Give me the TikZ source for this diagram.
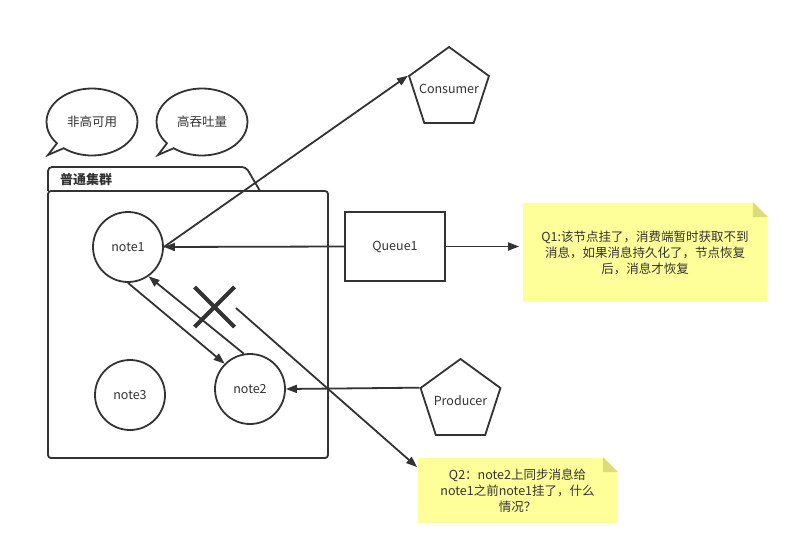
\documentclass[tikz,border=0pt]{standalone}
\usepackage{fontspec}
\setmainfont{Noto Sans CJK SC}
\usetikzlibrary{arrows.meta,positioning,shapes.geometric,shapes.callouts}

\definecolor{ink}{HTML}{333333}
\definecolor{stickyfill}{HTML}{FFFF99}
\definecolor{stickyfold}{HTML}{DCDC78}

\tikzset{
	every node/.style={font=\fontsize{12.5}{16}\selectfont},
	nodering/.style={circle, draw, minimum size=70pt, inner sep=0pt},
	penta/.style={regular polygon, regular polygon sides=5, draw, minimum size=84pt, inner sep=0pt},
	bubble/.style={ellipse callout, draw, minimum width=91pt, minimum height=67pt, inner sep=0pt, callout pointer arc=12},
	sticky/.style={fill=stickyfill, align=center, inner sep=0pt},
	flow/.style={-{Triangle[length=11pt,width=8pt]}},
}

\begin{document}
\begin{tikzpicture}[x=1pt, y=-1pt, color=ink, line width=1.8pt]
	\useasboundingbox (0,0) rectangle (800,556);
	% bubbles
	\node[bubble, callout absolute pointer={(48,155)}] (nothigh) at (92,122) {非高可用};
	\node[bubble, callout absolute pointer={(158,155)}] (highput) at (202,122) {高吞吐量};
	% cluster folder
	\draw[rounded corners=4pt] (48,191) -- (48,167) -- (246,167) -- (260,191);
	\node[draw, rounded corners=3pt, minimum width=280pt, minimum height=267pt] (cluster) at (188,324.5) {};
	\node[anchor=west, font=\fontsize{13}{16}\selectfont\bfseries] (clustername) at (56,180) {普通集群};
	\node[nodering] (note1) at (128,247) {note1};
	\node[nodering] (note2) at (250,389) {note2};
	\node[nodering] (note3) at (130,395) {note3};
	% queue, consumer, producer
	\node[draw, minimum width=100pt, minimum height=69pt] (queue1) at (395,246.5) {Queue1};
	\node[penta] (consumer) at (449,89) {\makebox[0pt]{Consumer}};
	\node[penta] (producer) at (460.5,401) {\makebox[0pt]{Producer}};
	% sticky notes
	\node[sticky, minimum width=244pt, minimum height=99pt] (q1) at (645,252.5)
		{Q1:该节点挂了，消费端暂时获取不到\\消息，如果消息持久化了，节点恢复\\后，消息才恢复};
	\node[sticky, minimum width=199pt, minimum height=65pt] (q2) at (517.5,490.5)
		{Q2：note2上同步消息给\\note1之前note1挂了，什么\\情况？};
	\fill[white] ([xshift=-15pt]q1.north east) -- (q1.north east) -- ([yshift=-15pt]q1.north east) -- cycle;
	\fill[stickyfold] ([xshift=-15pt]q1.north east) -- ([xshift=-15pt,yshift=-15pt]q1.north east) -- ([yshift=-15pt]q1.north east) -- cycle;
	\fill[white] ([xshift=-15pt]q2.north east) -- (q2.north east) -- ([yshift=-15pt]q2.north east) -- cycle;
	\fill[stickyfold] ([xshift=-15pt]q2.north east) -- ([xshift=-15pt,yshift=-15pt]q2.north east) -- ([yshift=-15pt]q2.north east) -- cycle;
	% arrows
	\draw[flow] (note1.east) -- (consumer.corner 2);
	\draw[flow] (queue1.west) -- (note1.east);
	\draw[flow, shorten >=3pt] (queue1.east) -- (q1.west |- queue1.east);
	\draw[flow] (note1.south) -- (note2.north west);
	\draw[flow] (note2.100) -- (note1.-55);
	\draw[flow] (producer.corner 2) -- (note2.east);
	\coordinate (lostsync) at (236,308);
	\draw[flow] (lostsync) -- ([yshift=-10pt]q2.north west);
	% broken sync mark
	\coordinate (cross) at (214.5,307);
	\draw[line width=4pt] ([shift={(-20pt,-20pt)}]cross) -- ([shift={(20pt,20pt)}]cross);
	\draw[line width=4pt] ([shift={(-20pt,20pt)}]cross) -- ([shift={(20pt,-20pt)}]cross);
\end{tikzpicture}
\end{document}
